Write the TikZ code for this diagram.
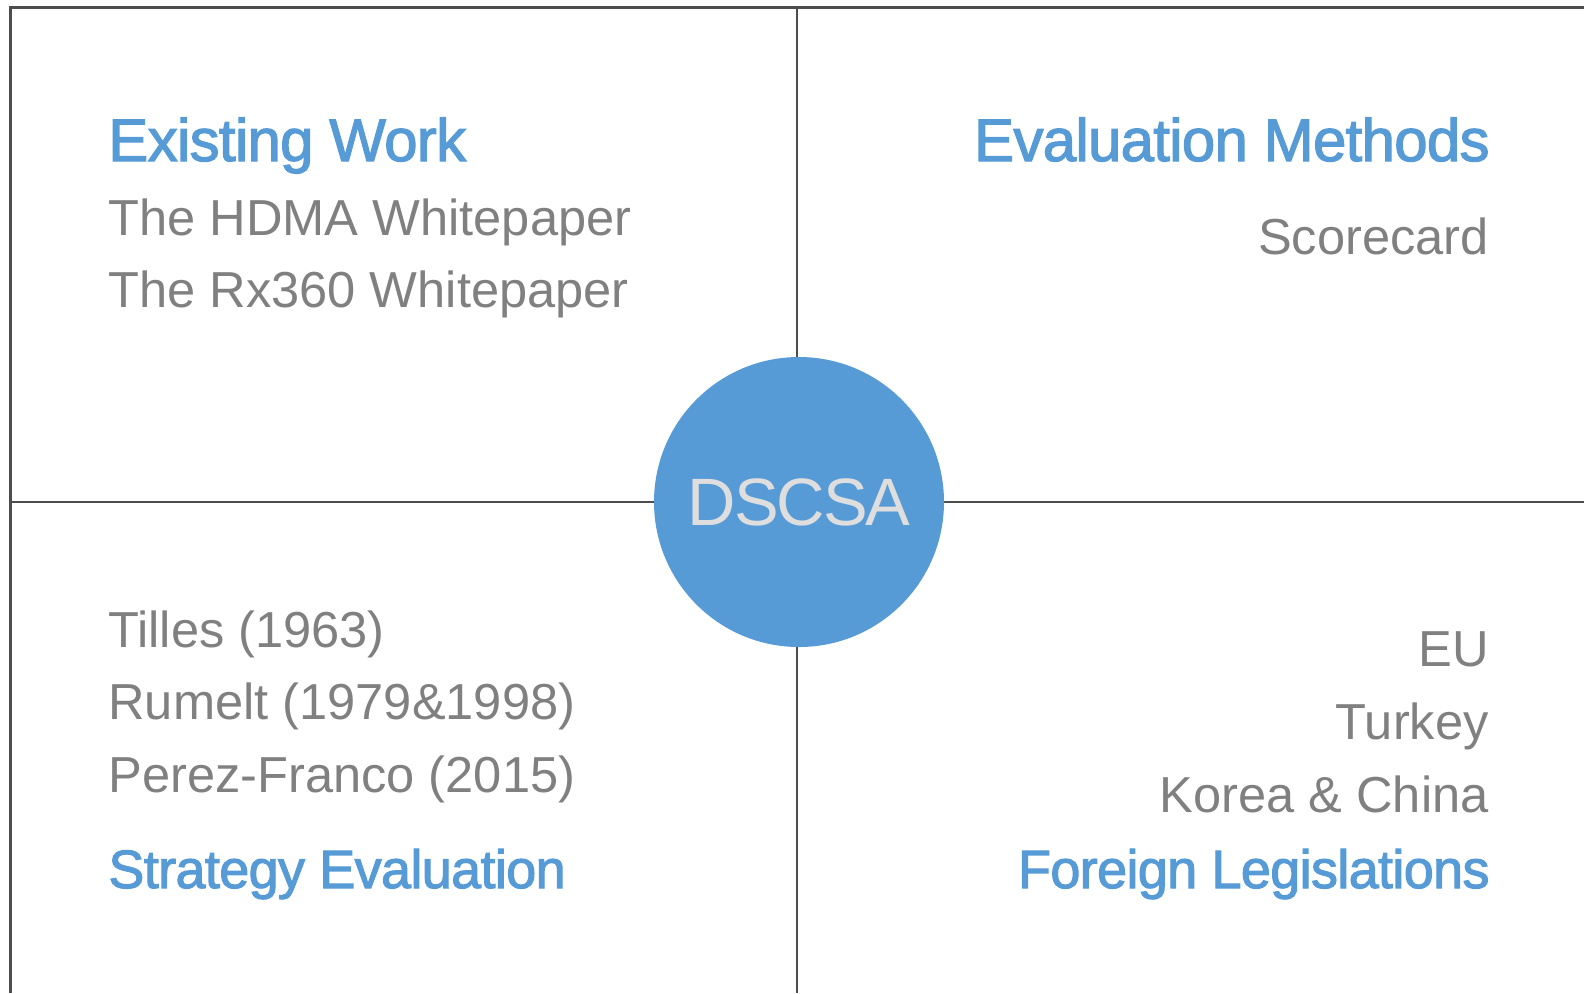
\documentclass[tikz,border=0pt]{standalone}
\usepackage{fontspec}
\setmainfont{Liberation Sans}
\newfontfamily\headfont[LetterSpace=-1.2,FakeBold=2]{Liberation Sans}
\newfontfamily\hubfont[LetterSpace=-3]{Liberation Sans}
\usepackage{xcolor}
\usepackage{tikz}

\definecolor{hubblue}{RGB}{87,155,214}
\definecolor{itemgray}{RGB}{128,128,128}
\definecolor{framegray}{RGB}{77,77,77}
\definecolor{hubtext}{RGB}{222,222,222}

\begin{document}
\begin{tikzpicture}[
        x=0.5pt, y=-0.5pt,
        heading/.style={inner sep=0pt, text=hubblue, font=\headfont\fontsize{30}{36}\selectfont},
        subheading/.style={inner sep=0pt, text=hubblue, font=\headfont\fontsize{27}{32}\selectfont},
        item/.style={inner sep=0pt, text=itemgray, font=\fontsize{25.3}{30}\selectfont},
        hub/.style={circle, fill=hubblue, minimum size=145pt, inner sep=0pt, text=hubtext, font=\hubfont\fontsize{33.5}{40}\selectfont},
        frameline/.style={draw=framegray, line width=1.5pt},
        axisline/.style={draw=framegray, line width=1.2pt}
    ]
        \useasboundingbox (0,0) rectangle (1584,993);

        % Outer frame (open at right and bottom)
        \draw[frameline] (1584,7.5) -- (10.5,7.5) -- (10.5,993);

        % Quadrant axes
        \draw[axisline] (797,7.5) -- (797,993);
        \draw[axisline] (10.5,502) -- (1584,502);

        % Centre
        \node[hub] (dscsa) at (799,502) {DSCSA};

        % Top left
        \node[heading, anchor=base west] (existHead) at (108,161) {Existing Work};
        \node[item, anchor=base west] (hdma) at (108,235) {The HDMA Whitepaper};
        \node[item, anchor=base west] (rx360) at (108,307) {The Rx360 Whitepaper};

        % Top right
        \node[heading, anchor=base east] (evalHead) at (1490,161) {Evaluation Methods};
        \node[item, anchor=base east] (scorecard) at (1489,254) {Scorecard};

        % Bottom left
        \node[item, anchor=base west] (tilles) at (108,647) {Tilles (1963)};
        \node[item, anchor=base west] (rumelt) at (108,719) {Rumelt (1979\&1998)};
        \node[item, anchor=base west] (perez) at (108,792) {Perez-Franco (2015)};
        \node[subheading, anchor=base west] (stratHead) at (108,888) {Strategy Evaluation};

        % Bottom right
        \node[item, anchor=base east] (eu) at (1489,666) {EU};
        \node[item, anchor=base east] (turkey) at (1489,739) {Turkey};
        \node[item, anchor=base east] (korea) at (1489,812) {Korea \& China};
        \node[subheading, anchor=base east] (foreignHead) at (1490,888) {Foreign Legislations};

    \end{tikzpicture}
\end{document}
